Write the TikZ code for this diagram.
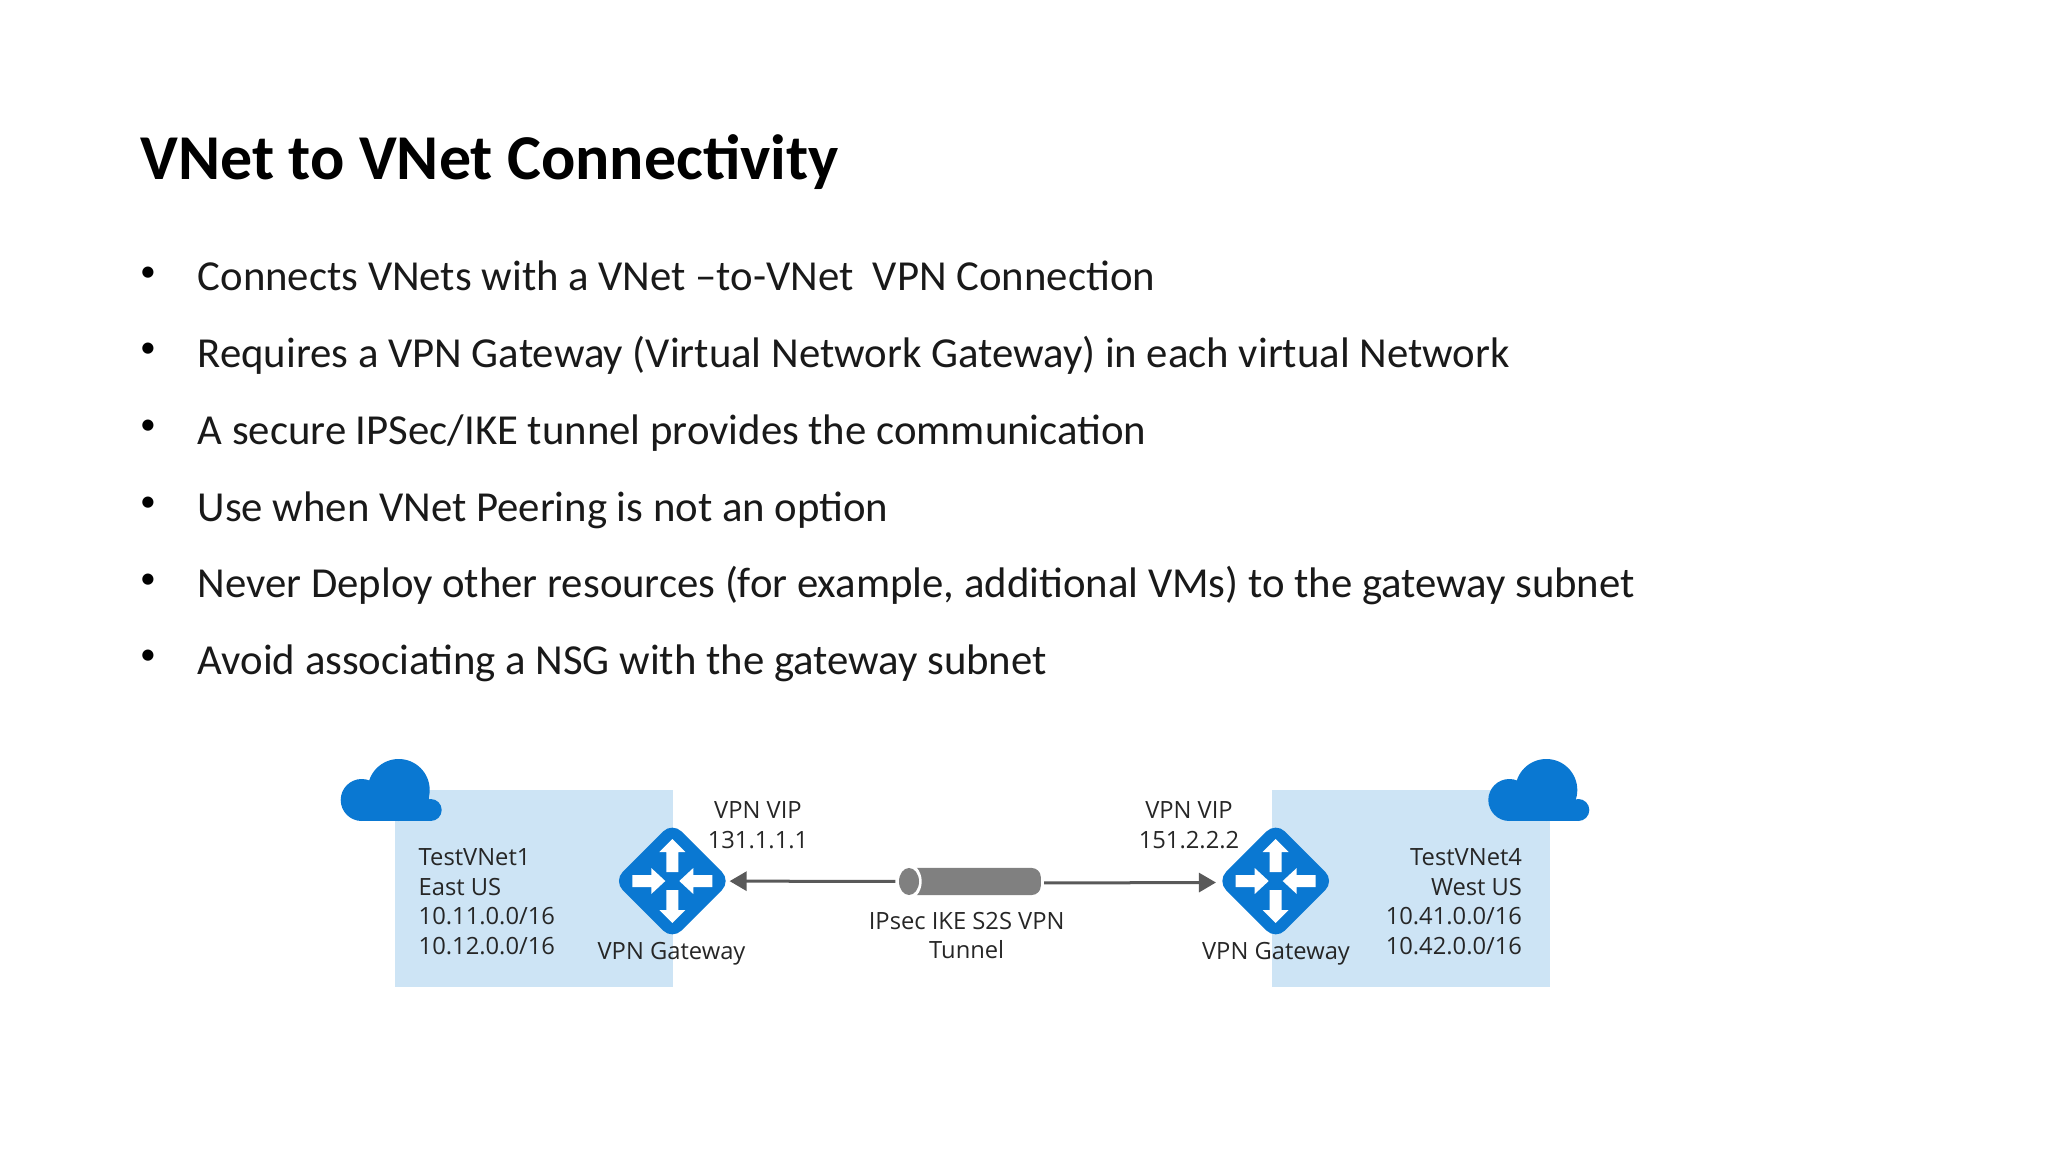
\documentclass[tikz,border=0pt]{standalone}
\usepackage{fontspec}
\setmainfont{Carlito}
\newfontfamily\labelfont{Open Sans}
\usetikzlibrary{arrows.meta,shapes.geometric}
\definecolor{azure}{HTML}{0A78D2}
\definecolor{vnetblue}{HTML}{CDE4F5}
\definecolor{tunnelgray}{HTML}{808080}
\definecolor{arrowgray}{HTML}{595959}
\tikzset{
  title/.style={anchor=base west,inner sep=0pt,font=\fontsize{18.17}{20}\selectfont\bfseries},
  bullet/.style={anchor=center,inner sep=0pt,font=\fontsize{9}{11}\selectfont},
  item/.style={anchor=base west,inner sep=0pt,font=\fontsize{12.16}{14}\selectfont,text=black!90},
  small/.style={inner sep=0pt,text=black!85,font=\labelfont\fontsize{6.75}{8.4}\selectfont},
  vnet/.style={rectangle,fill=vnetblue,inner sep=0pt,minimum width=2.78cm,minimum height=1.97cm},
  gateway/.style={diamond,fill=azure,inner sep=0pt,aspect=1,minimum size=1.18cm,rounded corners=0.13cm},
  link/.style={draw=arrowgray,line width=0.03cm,-{Triangle[length=0.17cm,width=0.19cm]}},
  pics/cloud/.style={code={
    \fill[azure] (21,42) circle[radius=21];
    \fill[azure] (58,32) circle[radius=31];
    \fill[azure] (90,52) circle[radius=11];
    \fill[azure] (21,42) rectangle (90,63);
    \fill[azure] (58,32) rectangle (88,50);
  }},
  pics/gwglyph/.style={code={
    \foreach \a in {0,180}
      \fill[white,rotate=\a] (-6,-9) -- (-6,-29) -- (-13,-29) -- (0,-42) -- (13,-29) -- (6,-29) -- (6,-9) -- cycle;
    \foreach \a in {0,180}
      \fill[white,rotate=\a] (-40,-6) -- (-21,-6) -- (-21,-13) -- (-7,0) -- (-21,13) -- (-21,6) -- (-40,6) -- cycle;
  }},
}
\begin{document}
\begin{tikzpicture}[x=0.01cm,y=-0.01cm]
  \useasboundingbox (0,0) rectangle (2048,1152);

  % slide text
  \node[title] (head) at (140,180) {VNet to VNet Connectivity};
  \foreach \n/\yy/\txt in {1/291/{Connects VNets with a VNet –to-VNet\ \ VPN Connection},
      2/367.7/{Requires a VPN Gateway (Virtual Network Gateway) in each virtual Network},
      3/444.4/{A secure IPSec/IKE tunnel provides the communication},
      4/521.1/{Use when VNet Peering is not an option},
      5/597.8/{Never Deploy other resources (for example, additional VMs) to the gateway subnet},
      6/674.5/{Avoid associating a NSG with the gateway subnet}} {
    \node[bullet] (dot\n) at (148,\yy-17) {\textbullet};
    \node[item] (line\n) at (197,\yy) {\txt};
  }

  % vnets
  \node[vnet] (net1) at (533.6,888.3) {};
  \node[vnet] (net4) at (1410.8,888.3) {};
  \pic at (340.7,758) {cloud};
  \pic at (1488.3,758) {cloud};

  % gateways
  \node[gateway] (gw1) at (672.3,881) {};
  \node[gateway] (gw4) at (1275.7,881) {};
  \pic at (gw1) {gwglyph};
  \pic at (gw4) {gwglyph};

  % tunnel
  \node[rectangle,fill=tunnelgray,rounded corners=0.09cm,inner sep=0pt,minimum width=1.357cm,minimum height=0.27cm] (body) at (972.9,881.5) {};
  \node[ellipse,fill=white,inner sep=0pt,minimum width=0.334cm,minimum height=0.388cm] (gap) at (905,881.5) {};
  \node[ellipse,fill=tunnelgray,inner sep=0pt,minimum width=0.2cm,minimum height=0.27cm] (cap) at (909,881.5) {};
  \draw[link,shorten <=0.03cm,shorten >=-0.023cm] (cap) -- (gw1);
  \draw[link,shorten <=0.025cm] ([yshift=-0.015cm]body.east) -- ([yshift=-0.015cm]gw4.west);

  % labels
  \node[small,align=left,anchor=west] (info1) at (418,901.5) {TestVNet1\\East US\\10.11.0.0/16\\10.12.0.0/16};
  \node[small,align=right,anchor=east] (info4) at (1522.7,901.5) {TestVNet4\\West US\\10.41.0.0/16\\10.42.0.0/16};
  \node[small,align=center] (vip1) at (758,825) {VPN VIP\\131.1.1.1};
  \node[small,align=center] (vip4) at (1189,825) {VPN VIP\\151.2.2.2};
  \node[small,anchor=base] (name1) at (671.5,959) {VPN Gateway};
  \node[small,anchor=base] (name4) at (1276,959) {VPN Gateway};
  \node[small,align=center] (tname) at (966.7,935.5) {IPsec IKE S2S VPN\\Tunnel};
\end{tikzpicture}
\end{document}
